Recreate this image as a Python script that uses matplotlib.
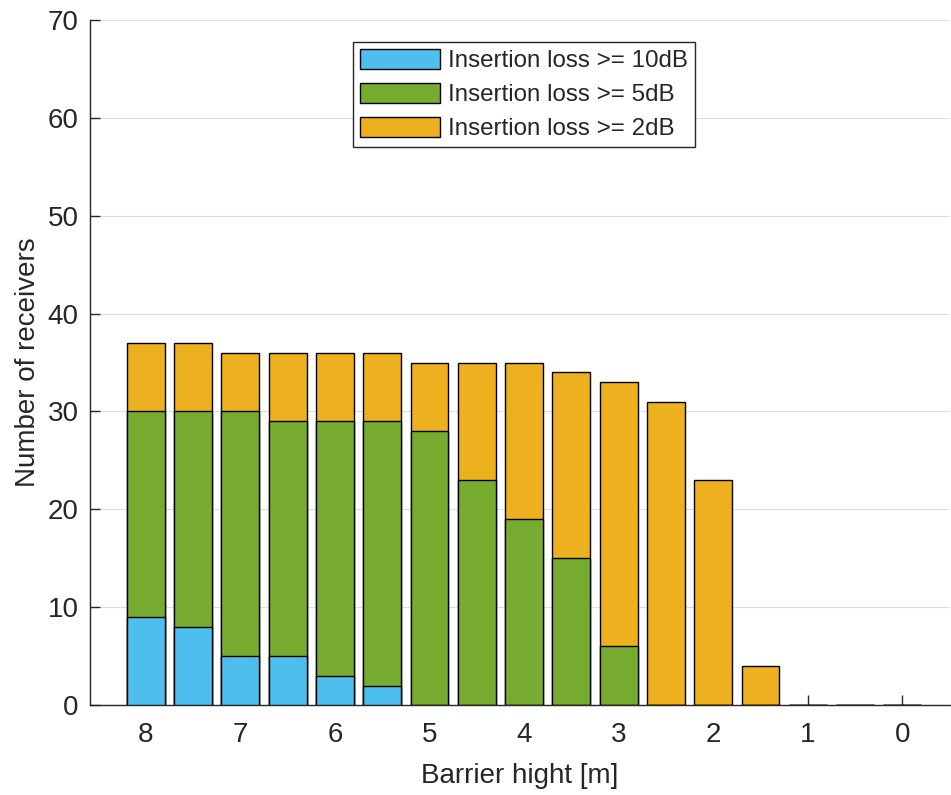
import matplotlib.pyplot as plt

# barrier heights [m] and number of receivers for each insertion loss level
heights = [8, 7.5, 7, 6.5, 6, 5.5, 5, 4.5, 4, 3.5, 3, 2.5, 2, 1.5, 1, 0.5, 0]
loss_2db = [37, 37, 36, 36, 36, 36, 35, 35, 35, 34, 33, 31, 23, 4, 0, 0, 0]
loss_5db = [30, 30, 30, 29, 29, 29, 28, 23, 19, 15, 6, 0, 0, 0, 0, 0, 0]
loss_10db = [9, 8, 5, 5, 3, 2, 0, 0, 0, 0, 0, 0, 0, 0, 0, 0, 0]
x_ticks = [8, 7, 6, 5, 4, 3, 2, 1, 0]


def main():
    plt.rcParams['font.family'] = ['Liberation Sans', 'DejaVu Sans']
    text_color = '#262626'

    fig = plt.figure(figsize=(9.51, 7.95), dpi=100)
    ax = fig.add_axes([0.0946, 0.113, 0.904, 0.862])

    # bars overlap, largest first so the smaller counts sit on top
    ax.bar(heights, loss_2db, width=0.4, color='#EDB120', edgecolor='black',
           linewidth=1, label='Insertion loss >= 2dB', zorder=3)
    ax.bar(heights, loss_5db, width=0.4, color='#77AC30', edgecolor='black',
           linewidth=1, label='Insertion loss >= 5dB', zorder=4)
    ax.bar(heights, loss_10db, width=0.4, color='#4DBEEE', edgecolor='black',
           linewidth=1, label='Insertion loss >= 10dB', zorder=5)

    ax.set_xlim(8.59, -0.5)
    ax.set_ylim(0, 70)
    ax.set_xticks(x_ticks)
    ax.set_yticks(range(0, 71, 10))
    ax.yaxis.grid(True, color='#dedede', linewidth=0.8, zorder=0)
    ax.set_axisbelow(True)

    for side in ['top', 'right']:
        ax.spines[side].set_visible(False)
    for side in ['left', 'bottom']:
        ax.spines[side].set_color('#262626')
        ax.spines[side].set_linewidth(1)
    ax.tick_params(direction='in', length=7, width=1, colors=text_color,
                   labelsize=20)
    ax.tick_params(axis='x', pad=12)
    ax.tick_params(axis='y', pad=8)

    ax.set_xlabel('Barrier hight [m]', fontsize=20, color=text_color, labelpad=11)
    ax.set_ylabel('Number of receivers', fontsize=20, color=text_color, labelpad=5)

    handles, labels = ax.get_legend_handles_labels()
    leg = ax.legend(handles[::-1], labels[::-1], loc='upper center',
                    bbox_to_anchor=(0.505, 0.968), fontsize=17.4, fancybox=False,
                    framealpha=1, edgecolor='#262626', handlelength=3.3,
                    handleheight=0.9, borderpad=0.28, labelspacing=0.45,
                    handletextpad=0.35, borderaxespad=0)
    leg.get_frame().set_linewidth(1)
    for t in leg.get_texts():
        t.set_color(text_color)

    fig.savefig('out.png', dpi=100)


if __name__ == "__main__":
    main()
